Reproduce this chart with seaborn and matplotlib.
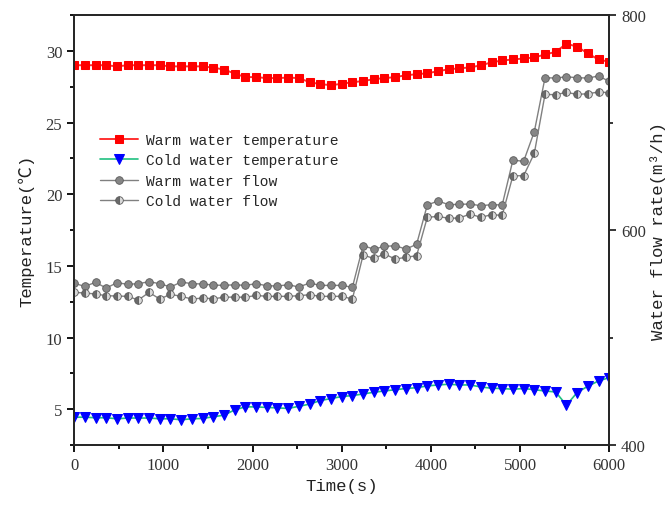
import numpy as np
import pandas as pd
import matplotlib
matplotlib.use("Agg")
import matplotlib.pyplot as plt
from matplotlib.ticker import MultipleLocator
import seaborn as sns

# time axis, one sample every 120 s
time_s = np.arange(0, 6001, 120)

warm_temp = [29.0, 29.0, 29.0, 29.0, 28.92, 29.0, 29.0, 29.0, 29.0, 28.92,
             28.92, 28.92, 28.92, 28.83, 28.7, 28.42, 28.17, 28.17, 28.1, 28.1,
             28.14, 28.1, 27.82, 27.68, 27.61, 27.7, 27.82, 27.89, 28.03, 28.1,
             28.17, 28.3, 28.37, 28.44, 28.58, 28.72, 28.78, 28.85, 28.99, 29.2,
             29.33, 29.4, 29.47, 29.54, 29.75, 29.93, 30.5, 30.3, 29.82, 29.4,
             29.24]

cold_temp = [4.44, 4.44, 4.4, 4.4, 4.33, 4.38, 4.38, 4.38, 4.33, 4.33,
             4.26, 4.33, 4.35, 4.47, 4.58, 4.95, 5.16, 5.16, 5.12, 5.09,
             5.05, 5.2, 5.35, 5.6, 5.74, 5.88, 5.95, 6.06, 6.18, 6.27,
             6.36, 6.44, 6.5, 6.62, 6.69, 6.74, 6.69, 6.69, 6.55, 6.46,
             6.44, 6.39, 6.44, 6.36, 6.27, 6.2, 5.28, 6.16, 6.6, 6.97,
             7.2]

warm_flow = [550.4, 547.6, 551.3, 546.0, 551.0, 549.5, 550.1, 551.9, 550.1, 547.0,
             551.6, 550.1, 549.8, 548.8, 548.5, 549.1, 548.5, 550.1, 548.2, 547.9,
             549.1, 547.0, 550.7, 548.5, 548.5, 548.5, 546.7, 585.4, 582.3, 584.8,
             585.4, 582.3, 586.7, 623.3, 627.0, 623.6, 623.9, 624.2, 622.6, 623.6,
             623.3, 665.1, 663.9, 691.5, 741.7, 741.4, 742.6, 741.7, 741.4, 743.3,
             738.3]

cold_flow = [542.0, 541.4, 540.5, 538.9, 538.6, 538.3, 534.9, 542.0, 535.8, 540.2,
             538.3, 535.8, 536.7, 536.1, 537.4, 537.7, 537.4, 539.2, 538.3, 538.3,
             538.3, 538.9, 539.8, 538.3, 538.3, 538.3, 535.8, 576.7, 573.6, 577.7,
             573.0, 574.6, 576.1, 611.8, 612.7, 610.9, 611.2, 614.9, 611.8, 614.3,
             613.6, 650.5, 650.5, 671.3, 726.2, 725.9, 728.1, 726.2, 726.8, 728.4,
             727.8]

df = pd.DataFrame({"time": time_s, "warm_temp": warm_temp, "cold_temp": cold_temp,
                   "warm_flow": warm_flow, "cold_flow": cold_flow})

sns.set_style("ticks")
plt.rcParams["font.family"] = ["Liberation Serif", "DejaVu Serif"]
plt.rcParams["axes.linewidth"] = 1.3
mono = ["Liberation Mono", "Noto Sans CJK SC", "DejaVu Sans Mono"]

fig = plt.figure(figsize=(6.68, 5.10), dpi=100)
ax = fig.add_axes([0.111, 0.1255, 0.801, 0.843])
ax2 = ax.twinx()

sns.lineplot(data=df, x="time", y="warm_temp", ax=ax, estimator=None, color="#ff3030",
             lw=1.4, marker="s", markersize=6, markerfacecolor="#ff0000",
             markeredgecolor="#ff0000", label="Warm water temperature", legend=False)
sns.lineplot(data=df, x="time", y="cold_temp", ax=ax, estimator=None, color="#20c080",
             lw=1.2, marker="v", markersize=7, markerfacecolor="#0000ff",
             markeredgecolor="#0000ff", label="Cold water temperature", legend=False)
sns.lineplot(data=df, x="time", y="warm_flow", ax=ax2, estimator=None, color="#808080",
             lw=1.0, marker="o", markersize=5.5, markerfacecolor="#858585",
             markeredgecolor="#5a5a5a", markeredgewidth=0.6,
             label="Warm water flow", legend=False)
sns.lineplot(data=df, x="time", y="cold_flow", ax=ax2, estimator=None, color="#808080",
             lw=1.0, marker="o", markersize=5.5, fillstyle="left",
             markerfacecolor="#6a6a6a", markerfacecoloralt="#d8d8d8",
             markeredgecolor="#5a5a5a", markeredgewidth=0.6,
             label="Cold water flow", legend=False)

ax.set_xlim(0, 6000)
ax.set_ylim(2.5, 32.5)
ax2.set_ylim(400, 800)
ax.xaxis.set_major_locator(MultipleLocator(1000))
ax.xaxis.set_minor_locator(MultipleLocator(500))
ax.yaxis.set_major_locator(MultipleLocator(5))
ax.yaxis.set_minor_locator(MultipleLocator(2.5))
ax2.yaxis.set_major_locator(MultipleLocator(200))
ax2.yaxis.set_minor_locator(MultipleLocator(100))

ax.tick_params(which="both", direction="out", width=1.3, labelsize=12, colors="black",
               labelcolor="#333333")
ax.tick_params(which="major", length=5)
ax.tick_params(which="minor", length=3)
ax.tick_params(axis="y", right=False)
ax.tick_params(axis="x", top=False)
ax2.tick_params(which="both", direction="out", width=1.3, labelsize=12, labelcolor="#333333")
ax2.tick_params(which="major", length=5)
ax2.tick_params(which="minor", length=3)

ax.set_xlabel("Time(s)", fontsize=12.5, family=mono, color="#222222", labelpad=4)
ax.set_ylabel("Temperature(\u2103)", fontsize=12.5, family=mono, color="#222222", labelpad=8)
ax2.set_ylabel("Water flow rate(m\u00b3/h)", fontsize=12.5, family=mono, color="#222222",
               labelpad=3)

for a in (ax, ax2):
    for s in a.spines.values():
        s.set_visible(True)
        s.set_linewidth(1.3)

h1, l1 = ax.get_legend_handles_labels()
h2, l2 = ax2.get_legend_handles_labels()
ax.legend(h1 + h2, l1 + l2, loc="upper left", bbox_to_anchor=(0.038, 0.74),
          frameon=False, prop={"family": mono, "size": 10.5}, handlelength=2.6,
          labelspacing=0.45, handletextpad=0.5, borderaxespad=0)

fig.savefig("out.png", dpi=100)
